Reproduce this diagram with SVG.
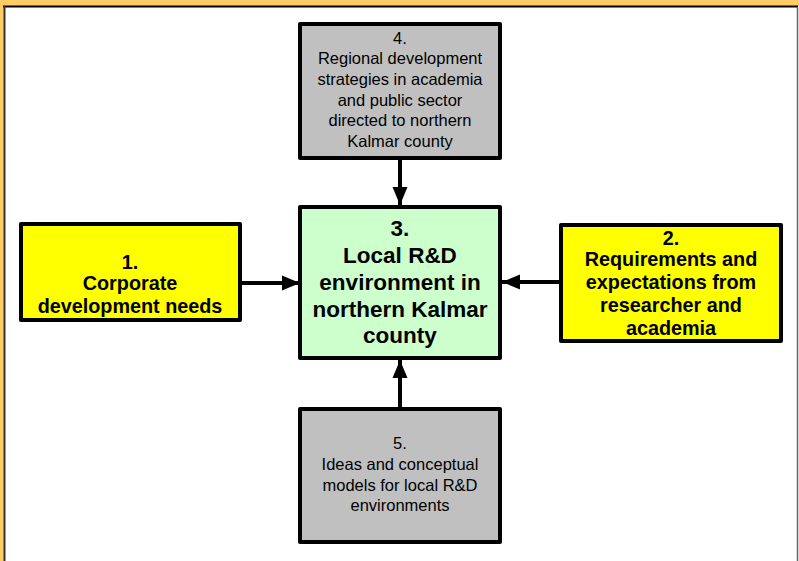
<svg xmlns="http://www.w3.org/2000/svg" width="799" height="561" viewBox="0 0 799 561">
<style>
.box{stroke:#000;stroke-width:4;stroke-linejoin:round}
.yel{fill:#FFFF00}.grn{fill:#CCFFCC}.gry{fill:#C0C0C0}
.reg{font-family:"Liberation Sans",Arial,sans-serif;font-size:16.5px;fill:#000;text-anchor:middle}
.b1{font-family:"Liberation Sans",Arial,sans-serif;font-size:19.8px;font-weight:bold;fill:#000;text-anchor:middle}
.b3{font-family:"Liberation Sans",Arial,sans-serif;font-size:22.5px;font-weight:bold;fill:#000;text-anchor:middle}
.conn{stroke:#000;stroke-width:4;fill:none;marker-end:url(#ah)}
</style>
<defs>
<marker id="ah" markerUnits="userSpaceOnUse" markerWidth="20" markerHeight="18" viewBox="0 0 20 18" refX="19" refY="9" orient="auto">
<path d="M1,1.5 L19,9 L1,16.5 Z" fill="#000"/>
</marker>
</defs>
<rect x="0" y="0" width="799" height="561" fill="#FFCC66"/>
<rect x="4" y="6" width="795" height="555" fill="#FFFFFF"/>
<line x1="3" y1="6.5" x2="798" y2="6.5" stroke="#000" stroke-width="2"/>
<line x1="4.5" y1="6" x2="4.5" y2="561" stroke="#333" stroke-width="2"/>
<line x1="797.5" y1="7" x2="797.5" y2="561" stroke="#666" stroke-width="1.5"/>
<g id="connectors">
<line class="conn" x1="400" y1="160" x2="400" y2="205"/>
<line class="conn" x1="242" y1="283" x2="300" y2="283"/>
<line class="conn" x1="559" y1="282" x2="502" y2="282"/>
<line class="conn" x1="400" y1="407" x2="400" y2="360"/>
</g>
<g id="node4">
<rect class="box gry" x="300" y="24" width="200" height="134"/>
<text class="reg" x="400" y="43.5">4.</text>
<text class="reg" x="400" y="64.2">Regional development</text>
<text class="reg" x="400" y="84.9">strategies in academia</text>
<text class="reg" x="400" y="105.6">and public sector</text>
<text class="reg" x="400" y="126.3">directed to northern</text>
<text class="reg" x="400" y="147">Kalmar county</text>
</g>
<g id="node3">
<rect class="box grn" x="300" y="207" width="200" height="151"/>
<text class="b3" x="400" y="236">3.</text>
<text class="b3" x="400" y="263">Local R&amp;D</text>
<text class="b3" x="400" y="290">environment in</text>
<text class="b3" x="400" y="316.5">northern Kalmar</text>
<text class="b3" x="400" y="343">county</text>
</g>
<g id="node1">
<rect class="box yel" x="21" y="224" width="219" height="96"/>
<text class="b1" x="130" y="269">1.</text>
<text class="b1" x="130" y="290">Corporate</text>
<text class="b1" x="130" y="313">development needs</text>
</g>
<g id="node2">
<rect class="box yel" x="561" y="225" width="220" height="116"/>
<text class="b1" x="671" y="245">2.</text>
<text class="b1" x="671" y="266">Requirements and</text>
<text class="b1" x="671" y="289">expectations from</text>
<text class="b1" x="671" y="312">researcher and</text>
<text class="b1" x="671" y="335">academia</text>
</g>
<g id="node5">
<rect class="box gry" x="300" y="409" width="200" height="133"/>
<text class="reg" x="400" y="449">5.</text>
<text class="reg" x="400" y="470">Ideas and conceptual</text>
<text class="reg" x="400" y="491">models for local R&amp;D</text>
<text class="reg" x="400" y="511">environments</text>
</g>
</svg>
